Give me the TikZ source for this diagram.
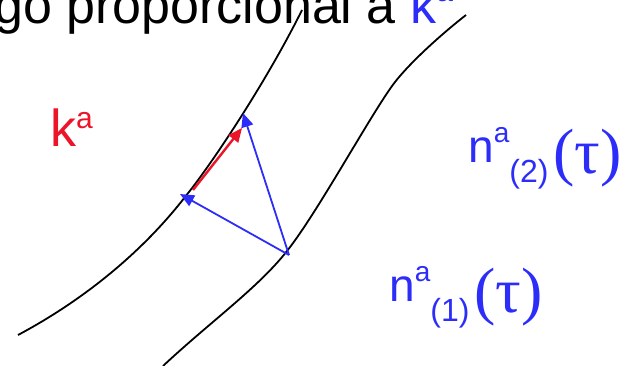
\documentclass[tikz,border=0pt]{standalone}
\usepackage{fontspec}
\setmainfont{Liberation Sans}
\newfontfamily\taufont{Liberation Serif}
\usepackage{xcolor}
\usetikzlibrary{arrows.meta}
\definecolor{vecblue}{RGB}{45,45,250}
\definecolor{vecred}{RGB}{235,20,40}
\newcommand{\supa}{\raisebox{20pt}{\fontsize{28}{30}\selectfont a}}
\newcommand{\nlabel}[1]{\fontsize{46}{50}\selectfont n\supa\raisebox{-20pt}{\fontsize{32}{34}\selectfont (#1)}\hspace{5pt}\raisebox{-11pt}{\taufont\fontsize{64}{66}\selectfont (τ)}}
\tikzset{
  worldline/.style={line width=1.8pt},
  nvec/.style={vecblue, line width=1.8pt, -{Triangle[length=14pt,width=12pt]}},
  kvec/.style={vecred, line width=2.4pt, -{Triangle[length=14pt,width=12pt]}},
}

\begin{document}
\begin{tikzpicture}[x=1pt,y=-1pt]
        \useasboundingbox (0,0) rectangle (625,366);
        \clip (0,0) rectangle (625,366);
        \node[anchor=base west, inner sep=0pt, font=\fontsize{52}{60}\selectfont] (title) at (-6,24) {go proporcional a \textcolor{vecblue}{k\raisebox{22pt}{\fontsize{30}{32}\selectfont a}}};
        % world lines
        \draw[worldline](18, 335) .. controls (80, 302) and (140, 255) .. (185, 197) .. controls (215, 160) and (270, 75) .. (302, 10);
        \draw[worldline](163, 366) .. controls (210, 322) and (258, 288) .. (287, 251) .. controls (318, 212) and (372, 112) .. (395, 82) .. controls (414, 58) and (448, 29) .. (466, 15);
        % vectors
        \coordinate (P) at (289, 255);
        \coordinate (A) at (180, 194);
        \coordinate (B) at (243, 113);
        \coordinate (K0) at (193, 190);
        \coordinate (K1) at (242, 128);
        \draw[nvec] (P) -- (A);
        \draw[nvec] (P) -- (B);
        \draw[kvec] (K0) -- (K1);
        % labels
        \node[anchor=base west, inner sep=0pt, text=vecred, font=\fontsize{52}{60}\selectfont] (ka) at (50, 147) {k\raisebox{18pt}{\fontsize{30}{32}\selectfont a}};
        \node[anchor=base west, inner sep=0pt, text=vecblue] (n2) at (468, 163) {\nlabel{2}};
        \node[anchor=base west, inner sep=0pt, text=vecblue] (n1) at (389, 302) {\nlabel{1}};
\end{tikzpicture}
\end{document}
